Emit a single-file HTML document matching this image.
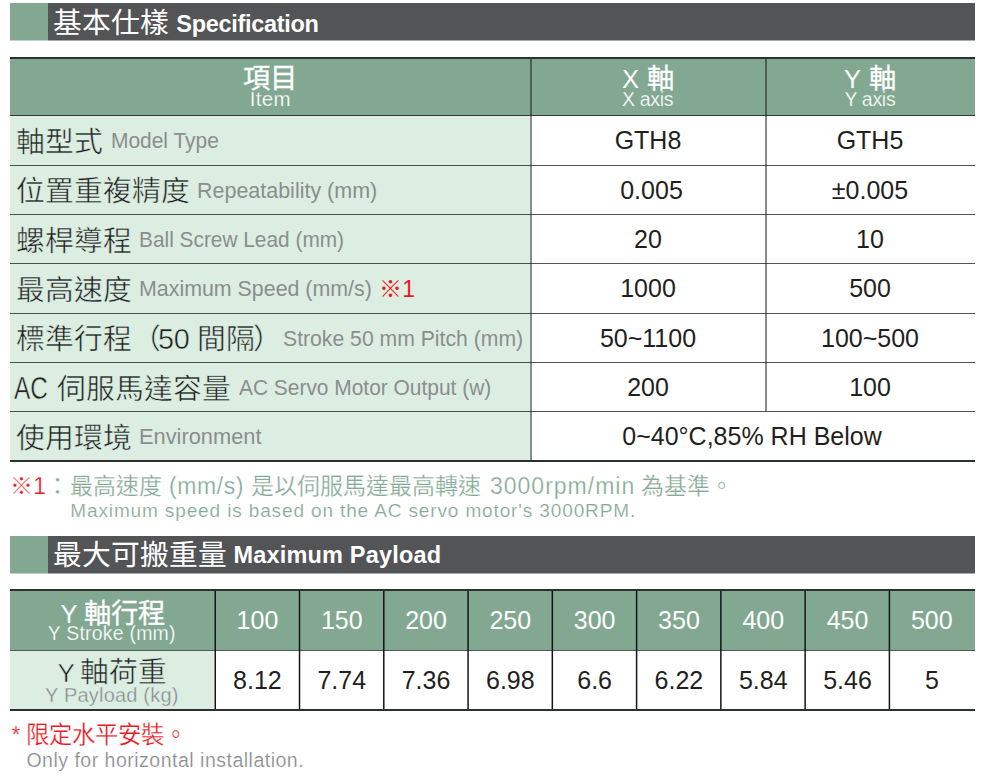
<!DOCTYPE html>
<html lang="zh-TW">
<head>
<meta charset="utf-8">
<title>Specification</title>
<style>
html,body{margin:0;padding:0;background:#fff;}
body{width:989px;height:779px;position:relative;overflow:hidden;font-family:"Liberation Sans",sans-serif;color:#231f20;}
div,span{white-space:nowrap;}
.a{position:absolute;}
.bar{position:absolute;left:10px;width:965px;height:37px;background:#535456;}
.bar:after{content:'';position:absolute;left:0;top:37px;width:965px;height:1px;background:linear-gradient(to right,#82a892 38px,#535456 38px);opacity:0.5;}
.bar .blk{position:absolute;left:0;top:0;width:38px;height:37px;background:#82a892;}
.bar .cj{position:absolute;left:43.1px;top:0.7px;line-height:38px;font-size:28.8px;color:#fff;}
.bar .en{position:absolute;line-height:38px;font-size:23.5px;font-weight:bold;color:#fff;}
.hl{position:absolute;background:rgba(10,12,10,0.7);height:1px;left:10px;width:965px;}
.vl{position:absolute;background:rgba(20,25,22,0.5);width:2px;}
.lab{position:absolute;left:10px;width:520px;height:50px;background:#dcede1;}
.lab .cj{position:absolute;left:5.5px;top:2.4px;line-height:49px;font-size:28.8px;color:#231f20;-webkit-text-stroke:0.5px #dcede1;}
.lab .en{position:absolute;top:0.65px;line-height:49px;font-size:22.3px;color:#8b8d8f;transform-origin:0 50%;}
.val{position:absolute;height:49px;line-height:49px;font-size:25px;color:#231f20;transform:translateX(-50%);}
.hc{position:absolute;color:#fff;font-size:27.3px;line-height:27px;-webkit-text-stroke:0.35px currentColor;}
.hc .lt{font-size:25.5px;-webkit-text-stroke:0;}
.he{position:absolute;color:#fff;line-height:20px;-webkit-text-stroke:0.25px #82a892;}
.nt{font-size:23px;line-height:28px;-webkit-text-stroke:0.25px #fff;}
.lc{position:absolute;color:#231f20;font-size:28.8px;line-height:42px;-webkit-text-stroke:0.5px #dcede1;}
.lc .lt{font-size:26px;}
.sq{display:inline-block;font-size:30.5px;line-height:30px;transform:scaleX(0.8);transform-origin:0 50%;margin-left:-1.3px;margin-right:-7.3px;}
.val2{position:absolute;width:84.3px;height:59px;line-height:59px;text-align:center;font-size:25px;color:#231f20;}
.val2.w{color:#fff;}
</style>
</head>
<body>
<div class="bar" style="top:3px;"><div class="blk"></div><span class="cj">基本仕樣</span><span class="en" style="left:166.3px;top:1.8px;letter-spacing:-0.3px;">Specification</span></div>
<div class="a" style="left:10px;top:57px;width:965px;height:2px;background:#2c302e;"></div>
<div class="a" style="left:10px;top:59px;width:965px;height:57px;background:#82a892;"></div>
<span class="hc" style="left:242.9px;top:64.5px;">項目</span><span class="he" style="left:249.8px;top:88.7px;font-size:20.5px;letter-spacing:0.3px;">Item</span>
<span class="hc" style="left:622.0px;top:64.5px;"><span class="lt">X</span> 軸</span><span class="he" style="left:622.0px;top:88.7px;font-size:19.5px;letter-spacing:-0.3px;">X axis</span>
<span class="hc" style="left:844.0px;top:64.5px;"><span class="lt">Y</span> 軸</span><span class="he" style="left:844.4px;top:88.7px;font-size:19.5px;letter-spacing:-0.3px;">Y axis</span>
<div class="lab" style="top:115.5px;"><span class="cj">軸型式</span><span class="en" style="left:101.2px;transform:scaleX(0.939);">Model Type</span></div>
<div class="val" style="left:648px;top:116.0px;">GTH8</div>
<div class="val" style="left:870px;top:116.0px;">GTH5</div>
<div class="lab" style="top:165px;"><span class="cj">位置重複精度</span><span class="en" style="left:187.3px;transform:scaleX(0.963);">Repeatability (mm)</span></div>
<div class="val" style="left:651.5px;top:165.5px;">0.005</div>
<div class="val" style="left:870px;top:165.5px;">±0.005</div>
<div class="lab" style="top:214.3px;"><span class="cj">螺桿導程</span><span class="en" style="left:129.3px;transform:scaleX(0.935);">Ball Screw Lead (mm)</span></div>
<div class="val" style="left:648px;top:214.8px;">20</div>
<div class="val" style="left:870px;top:214.8px;">10</div>
<div class="lab" style="top:263.7px;"><span class="cj">最高速度</span><span class="en" style="left:129.4px;transform:scaleX(0.959);">Maximum Speed (mm/s)</span><span class="a" style="left:369.2px;top:1.2px;line-height:49px;color:#ea1a24;font-size:23px;">※1</span></div>
<div class="val" style="left:648px;top:264.2px;">1000</div>
<div class="val" style="left:870px;top:264.2px;">500</div>
<div class="lab" style="top:313px;"><span class="cj">標準行程（<span style="margin-left:-2.4px;letter-spacing:-0.4px">50 間隔</span><span style="margin-left:-1.6px">）</span></span><span class="en" style="left:273.2px;transform:scaleX(0.95);">Stroke 50 mm Pitch (mm)</span></div>
<div class="val" style="left:648px;top:313.5px;">50~1100</div>
<div class="val" style="left:870px;top:313.5px;">100~500</div>
<div class="lab" style="top:362.3px;"><span class="cj"><span class="sq">AC</span> 伺服馬達容量</span><span class="en" style="left:229.3px;transform:scaleX(0.938);">AC Servo Motor Output (w)</span></div>
<div class="val" style="left:648px;top:362.8px;">200</div>
<div class="val" style="left:870px;top:362.8px;">100</div>
<div class="lab" style="top:411.3px;"><span class="cj">使用環境</span><span class="en" style="left:129.4px;transform:scaleX(0.979);">Environment</span></div>
<div class="val" style="left:752px;top:411.8px;">0~40°C,85% RH Below</div>
<div class="hl" style="top:115px;"></div>
<div class="hl" style="top:165px;"></div>
<div class="hl" style="top:214px;"></div>
<div class="hl" style="top:263px;"></div>
<div class="hl" style="top:313px;"></div>
<div class="hl" style="top:362px;"></div>
<div class="hl" style="top:411px;"></div>
<div class="a" style="left:10px;top:460px;width:965px;height:2px;background:#2c302e;"></div>
<div class="vl" style="left:530px;top:59px;height:402px;"></div>
<div class="vl" style="left:765px;top:59px;height:352px;"></div>
<div class="a nt" style="left:0;top:471.8px;color:#85ab95;"><span class="a" style="left:10.2px;color:#ea1a24">※1</span><span class="a" style="left:46px;">：</span><span class="a" style="left:69.6px;">最高速度</span><span class="a" style="left:169px;letter-spacing:0.6px;">(mm/s)</span><span class="a" style="left:250.9px;">是以伺服馬達最高轉速</span><span class="a" style="left:490px;letter-spacing:1px;">3000rpm/min</span><span class="a" style="left:641.3px;">為基準。</span></div>
<div class="a" style="left:70.3px;top:500.4px;font-size:19px;line-height:22px;letter-spacing:0.87px;color:#85ab95;-webkit-text-stroke:0.18px #fff;">Maximum speed is based on the AC servo motor's 3000RPM.</div>
<div class="bar" style="top:536px;"><div class="blk"></div><span class="cj" style="top:0.1px">最大可搬重量</span><span class="en" style="left:223.5px;top:-0.3px;letter-spacing:0.18px;">Maximum Payload</span></div>
<div class="a" style="left:10px;top:589px;width:965px;height:2px;background:#2c302e;"></div>
<div class="a" style="left:10px;top:591px;width:965px;height:59px;background:#82a892;"></div>
<div class="a" style="left:10px;top:651px;width:204px;height:59px;background:#dcede1;"></div>
<span class="hc" style="left:60.6px;top:599.5px;word-spacing:-1.4px;"><span class="lt">Y</span> 軸行程</span><span class="he" style="left:47.8px;top:623.3px;font-size:19.5px;letter-spacing:0.2px;">Y Stroke (mm)</span>
<span class="lc" style="left:57.5px;top:650.7px;word-spacing:-3px;"><span class="lt">Y</span> 軸荷重</span><span class="he" style="left:45px;top:684.8px;font-size:20px;letter-spacing:0.2px;color:#8b8d8f;-webkit-text-stroke:0.3px #dcede1;">Y Payload (kg)</span>
<div class="val2 w" style="left:215.3px;top:591px;">100</div><div class="val2" style="left:215.3px;top:651px;">8.12</div>
<div class="val2 w" style="left:299.6px;top:591px;">150</div><div class="val2" style="left:299.6px;top:651px;">7.74</div>
<div class="val2 w" style="left:383.9px;top:591px;">200</div><div class="val2" style="left:383.9px;top:651px;">7.36</div>
<div class="val2 w" style="left:468.2px;top:591px;">250</div><div class="val2" style="left:468.2px;top:651px;">6.98</div>
<div class="val2 w" style="left:552.5px;top:591px;">300</div><div class="val2" style="left:552.5px;top:651px;">6.6</div>
<div class="val2 w" style="left:636.8px;top:591px;">350</div><div class="val2" style="left:636.8px;top:651px;">6.22</div>
<div class="val2 w" style="left:721.1px;top:591px;">400</div><div class="val2" style="left:721.1px;top:651px;">5.84</div>
<div class="val2 w" style="left:805.4px;top:591px;">450</div><div class="val2" style="left:805.4px;top:651px;">5.46</div>
<div class="val2 w" style="left:889.7px;top:591px;">500</div><div class="val2" style="left:889.7px;top:651px;">5</div>
<svg class="a" style="left:0;top:591px;" width="989" height="119" viewBox="0 0 989 119"><path d="M215.25 0V119 M299.52 0V119 M383.79 0V119 M468.06 0V119 M552.33 0V119 M636.60 0V119 M720.87 0V119 M805.14 0V119 M889.41 0V119" stroke="#151515" stroke-width="1.5" fill="none"/></svg>
<div class="hl" style="top:650px;"></div>
<div class="a" style="left:10px;top:709px;width:965px;height:2px;background:#2c302e;"></div>
<div class="a nt" style="left:0;top:721.3px;color:#ea1a24;"><span class="a" style="left:11.5px;">*</span><span class="a" style="left:25.6px;font-size:23.4px;">限定水平安裝。</span></div>
<div class="a" style="left:26.4px;top:749px;font-size:19.5px;line-height:22px;letter-spacing:0.5px;color:#8b8d8f;-webkit-text-stroke:0.18px #fff;">Only for horizontal installation.</div>
</body>
</html>
